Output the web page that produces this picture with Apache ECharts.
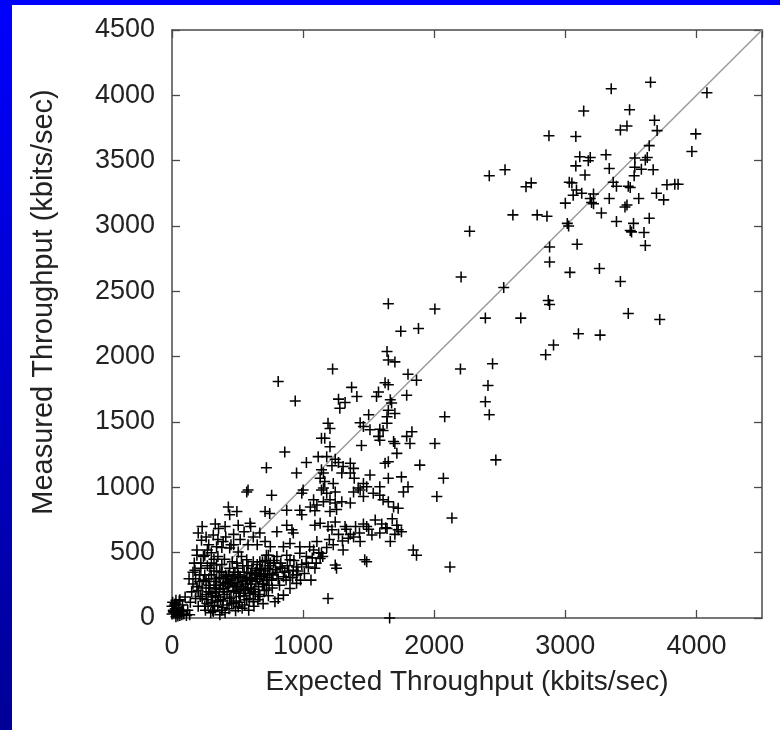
<!DOCTYPE html>
<html>
<head>
<meta charset="utf-8">
<script src="https://cdn.jsdelivr.net/npm/echarts@6/dist/echarts.min.js"></script>
<style>
  html, body { margin: 0; padding: 0; background: #fff; }
  #chart { width: 780px; height: 730px; }
</style>
</head>
<body>
<div id="chart"></div>
<script>
// 吞吐量对比散点图
const xTitle = 'Expected Throughput (kbits/sec)'
const yTitle = 'Measured Throughput (kbits/sec)'
const axisMax = 4500

// y = x 参考线
const diagonal = [[0, 0], [4500, 4500]]

// 原点附近
const originPoints = [
  [0, 30], [10, 60], [20, 100], [30, 10], [40, 40], [50, 80], [60, 20], [5, 120],
  [70, 50], [25, 70], [45, 15], [80, 100], [15, 40], [35, 55], [90, 30], [55, 130],
  [25, 110], [50, 60], [10, 50], [75, 25], [60, 140], [135, 25], [120, 60], [100, 160],
  [130, 300], [110, 20], [140, 120], [85, 60], [0, 90], [30, 135]
]

// 低吞吐量密集区
const lowPoints = [
  [330, 720], [405, 700], [355, 685], [505, 710], [595, 725], [225, 595], [190, 480], [175, 365],
  [315, 635], [390, 585], [340, 545], [470, 560], [440, 535], [505, 505], [670, 650], [710, 585],
  [750, 545], [800, 660], [875, 710], [915, 675], [925, 650], [850, 545], [900, 570], [975, 545],
  [1090, 710], [1130, 725], [1190, 700], [1220, 675], [1245, 735], [1320, 700], [1345, 610], [1385, 620],
  [1485, 700], [1525, 635], [1585, 650], [1640, 685], [1715, 710], [1750, 660], [1725, 675], [1435, 585],
  [1665, 585], [1105, 585], [1140, 495], [1130, 455], [1080, 520], [1050, 545], [975, 495], [1025, 470],
  [1245, 405], [1255, 380], [1470, 445], [1485, 430], [1305, 520], [1840, 520], [1865, 480], [1060, 290],
  [1190, 150], [810, 150], [785, 125], [950, 265], [900, 225], [850, 175], [720, 215], [670, 165],
  [695, 110], [595, 190], [570, 140], [620, 125], [495, 240], [520, 165], [470, 115], [505, 85],
  [380, 60], [315, 50], [365, 25], [415, 315], [440, 265], [390, 225], [340, 405], [365, 355],
  [300, 330], [240, 290], [190, 240], [215, 165], [265, 140], [645, 365], [745, 340], [825, 390],
  [670, 430], [775, 420], [850, 315], [925, 365], [950, 390], [1025, 420], [1090, 380], [900, 445],
  [875, 480], [735, 480], [800, 470], [495, 420], [570, 445], [1660, 0],
  [160, 260], [180, 300], [200, 210], [210, 330], [230, 150], [250, 90], [260, 280], [280, 200],
  [290, 380], [300, 120], [310, 60], [320, 250], [330, 170], [340, 300], [350, 90], [360, 220],
  [370, 140], [380, 410], [390, 270], [400, 180], [410, 330], [420, 100], [430, 240], [440, 380],
  [450, 160], [460, 300], [470, 210], [480, 350], [490, 130], [500, 270], [510, 190], [520, 320],
  [530, 240], [540, 400], [550, 170], [560, 290], [570, 350], [580, 230], [590, 310], [600, 260],
  [610, 380], [620, 200], [630, 330], [640, 280], [650, 410], [660, 240], [670, 300], [680, 370],
  [690, 260], [700, 330], [710, 440], [720, 290], [730, 380], [740, 250], [750, 420], [770, 330],
  [790, 370], [810, 300], [830, 420], [860, 350], [880, 400], [900, 310], [930, 440], [960, 360],
  [990, 410], [1010, 340], [1040, 390], [1070, 460], [1100, 420], [1120, 500], [1150, 470], [1180, 540],
  [1200, 600], [1230, 560], [1270, 640], [1300, 590], [1330, 680], [1360, 640], [1400, 700], [1430, 650],
  [1460, 720], [1500, 680], [1550, 750], [1600, 720], [1630, 690], [1680, 760], [1700, 640],
  [200, 650], [230, 700], [260, 620], [280, 560], [300, 500], [320, 450], [250, 480], [220, 420],
  [270, 400], [350, 600], [380, 540], [410, 620], [450, 560], [470, 640], [520, 600], [550, 660],
  [580, 560], [620, 620], [650, 560], [600, 700],
  [150, 200], [160, 350], [170, 420], [180, 150], [190, 520], [200, 90], [210, 280], [220, 380],
  [230, 230], [240, 470], [250, 330], [260, 180], [270, 520], [280, 300], [290, 230], [300, 420],
  [310, 160], [320, 360], [330, 280], [340, 200], [350, 470], [360, 310], [370, 250], [380, 350],
  [390, 130], [400, 450], [410, 260], [420, 200], [430, 330], [440, 150], [450, 290], [460, 430],
  [470, 350], [480, 260], [490, 200], [500, 380], [510, 310], [520, 220], [530, 470], [540, 280],
  [550, 350], [560, 210], [570, 300], [580, 400], [590, 150], [600, 340], [610, 290], [620, 430],
  [630, 220], [640, 350], [650, 300], [660, 180], [670, 380], [680, 320], [690, 430], [700, 260],
  [710, 360], [720, 480], [730, 310], [740, 400], [760, 290], [780, 440], [800, 350], [820, 250],
  [840, 380], [870, 290], [890, 360], [920, 310], [950, 330], [980, 290],
  [255, 60], [275, 110], [295, 40], [325, 95], [345, 130], [385, 80], [405, 40], [435, 70],
  [455, 110], [485, 55], [515, 120], [535, 75], [555, 100], [585, 60], [625, 90], [655, 140],
  [285, 250], [305, 190], [335, 230], [355, 160], [395, 300], [425, 280], [465, 250], [505, 330],
  [545, 220], [575, 260], [605, 220], [635, 180], [665, 340], [705, 210], [735, 170], [765, 230]
]

// 中间区域
const midPoints = [
  [1650, 2405], [2005, 2365], [1745, 2195], [1880, 2215], [1640, 2040], [1650, 1975], [1700, 1960], [1225, 1905],
  [2200, 1905], [810, 1810], [1800, 1865], [1865, 1820], [1625, 1800], [1650, 1785], [1370, 1765], [1410, 1695],
  [1270, 1675], [1320, 1650], [1280, 1605], [1575, 1730], [1560, 1695], [940, 1660], [1790, 1705], [1665, 1670],
  [1675, 1645], [1650, 1590], [1700, 1565], [1640, 1540], [1640, 1490], [1500, 1555], [2080, 1540], [1190, 1490],
  [1205, 1450], [1435, 1495], [1460, 1465], [1510, 1440], [1585, 1445], [1610, 1435], [1830, 1425], [1790, 1390],
  [1140, 1375], [1165, 1375], [1205, 1310], [1575, 1390], [1585, 1360], [1445, 1320], [1690, 1350], [1700, 1335],
  [1715, 1260], [1815, 1335], [2005, 1335], [860, 1270], [720, 1150], [1025, 1190], [950, 1110], [1115, 1235],
  [1180, 1235], [1245, 1215], [1270, 1190], [1305, 1160], [1360, 1185], [1385, 1145], [1140, 1135], [1155, 1110],
  [1130, 1070], [1165, 1045], [1155, 995], [1140, 980], [1220, 1165], [1295, 1110], [1360, 1110], [1390, 1070],
  [1625, 1185], [1650, 1195], [1890, 1170], [1510, 1095], [1460, 1030], [1420, 995], [1485, 1005], [1585, 1005],
  [1650, 1070], [1750, 1080], [1800, 1005], [1765, 965], [2070, 1070], [2020, 930], [1230, 1030], [1245, 965],
  [1180, 955], [1385, 965], [1435, 980], [1460, 930], [1535, 955], [1585, 940], [1610, 905], [1650, 890],
  [1690, 850], [1725, 840], [1000, 980], [990, 955], [580, 980], [570, 965], [760, 940], [1080, 905],
  [1105, 865], [1055, 850], [1155, 890], [1205, 905], [1245, 880], [1295, 890], [1360, 880], [875, 825],
  [975, 825], [1090, 820], [1205, 815], [1255, 830], [430, 850], [495, 815], [440, 790], [710, 815],
  [745, 800], [990, 790], [2135, 765], [2120, 390]
]

// 高吞吐量区
const highPoints = [
  [3350, 4050], [3650, 4100], [4080, 4020], [3140, 3880], [3490, 3890], [3680, 3810], [3420, 3735], [3470, 3765],
  [3700, 3730], [3080, 3685], [3995, 3705], [3965, 3570], [3640, 3615], [3110, 3530], [3190, 3525], [3175, 3500],
  [3310, 3545], [3530, 3520], [3625, 3525], [3610, 3505], [3080, 3460], [3335, 3440], [3530, 3450], [3580, 3435],
  [3670, 3430], [3150, 3390], [3525, 3385], [3030, 3335], [3050, 3330], [3365, 3335], [3390, 3305], [3480, 3305],
  [3495, 3295], [3775, 3315], [3835, 3320], [3860, 3320], [3085, 3275], [3125, 3250], [3060, 3235], [3215, 3245],
  [3190, 3210], [3200, 3180], [3215, 3170], [3000, 3175], [3335, 3210], [3695, 3250], [3750, 3200], [3560, 3210],
  [3470, 3160], [3455, 3145], [3275, 3100], [3015, 3020], [3025, 3000], [3390, 3035], [3520, 3020], [3640, 3060],
  [3495, 2965], [3505, 2955], [3600, 2950], [3090, 2860], [3610, 2850], [3035, 2645], [3260, 2675], [3420, 2575],
  [3480, 2330], [3720, 2285], [3100, 2175], [3265, 2165],
  [2875, 3690], [2540, 3430], [2420, 3385], [2700, 3300], [2740, 3330], [2600, 3085], [2785, 3085], [2860, 3075],
  [2270, 2960], [2880, 2840], [2880, 2725], [2530, 2530], [2205, 2610], [2660, 2295], [2390, 2295], [2870, 2430],
  [2880, 2400], [2850, 2015], [2910, 2090], [2445, 1945], [2410, 1780], [2390, 1655], [2420, 1555], [2470, 1210]
]

const allPoints = originPoints.concat(lowPoints, midPoints, highPoints)

const plusSymbol = 'path://M4.3,0h1.4v4.3h4.3v1.4h-4.3v4.3h-1.4v-4.3h-4.3v-1.4h4.3z'
const textColor = '#222'
const frameColor = '#4a4a4a'
const fontFamily = '"Liberation Sans", Arial, sans-serif'

var chart = echarts.init(document.getElementById('chart'), null, { renderer: 'canvas' })

function baseAxis() {
  return {
    type: 'value',
    min: 0,
    max: axisMax,
    splitLine: { show: false },
    axisLine: { show: true, onZero: false, lineStyle: { color: frameColor, width: 1.5 } },
    axisTick: { show: true, inside: true, length: 8, lineStyle: { color: frameColor, width: 1.3 } }
  }
}

function plainLabel(v) {
  return String(v)
}

var option = {
  backgroundColor: '#fff',
  animation: false,
  // 蓝色边框
  graphic: [
    {
      type: 'rect',
      left: 0, top: 0,
      shape: { width: 12, height: 730 },
      style: {
        fill: new echarts.graphic.LinearGradient(0, 0, 0, 1, [
          { offset: 0, color: '#0000ff' },
          { offset: 1, color: '#000096' }
        ])
      },
      z: 100
    },
    {
      type: 'rect',
      left: 0, top: 0,
      shape: { width: 780, height: 5 },
      style: { fill: '#0000ff' },
      z: 100
    }
  ],
  grid: { left: 172, right: 18, top: 30, bottom: 112 },
  xAxis: [
    Object.assign(baseAxis(), {
      position: 'bottom',
      interval: 1000,
      name: xTitle,
      nameLocation: 'middle',
      nameGap: 50,
      nameTextStyle: { color: textColor, fontSize: 28, fontFamily: fontFamily },
      axisLabel: { color: textColor, fontSize: 27, fontFamily: fontFamily, margin: 15, showMaxLabel: false, formatter: plainLabel }
    }),
    Object.assign(baseAxis(), {
      position: 'top',
      interval: 1000,
      axisLabel: { show: false }
    })
  ],
  yAxis: [
    Object.assign(baseAxis(), {
      position: 'left',
      interval: 500,
      name: yTitle,
      nameLocation: 'middle',
      nameRotate: 90,
      nameGap: 114,
      nameTextStyle: { color: textColor, fontSize: 29, fontFamily: fontFamily, padding: [0, 0, 0, 44] },
      axisLabel: { color: textColor, fontSize: 27, fontFamily: fontFamily, margin: 17, formatter: plainLabel }
    }),
    Object.assign(baseAxis(), {
      position: 'right',
      interval: 500,
      axisLabel: { show: false }
    })
  ],
  series: [
    {
      type: 'line',
      data: diagonal,
      xAxisIndex: 0,
      yAxisIndex: 0,
      symbol: 'none',
      silent: true,
      lineStyle: { color: '#9a9a9a', width: 1.5 },
      z: 1
    },
    {
      type: 'scatter',
      data: allPoints,
      xAxisIndex: 0,
      yAxisIndex: 0,
      symbol: plusSymbol,
      symbolSize: 11,
      itemStyle: { color: '#000', opacity: 1 },
      silent: true,
      z: 2
    }
  ]
}

chart.setOption(option)
</script>
</body>
</html>
